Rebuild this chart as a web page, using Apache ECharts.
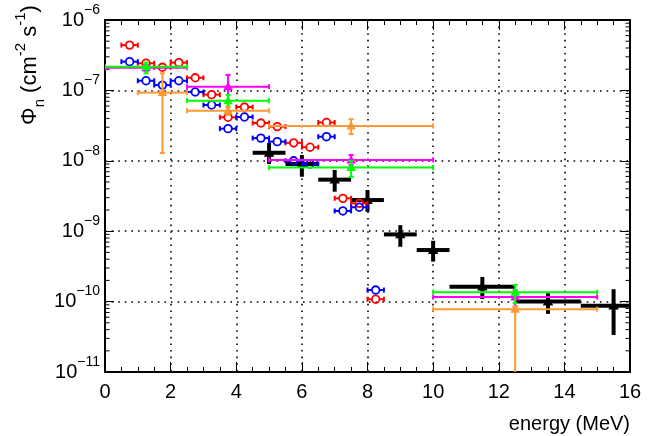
<!DOCTYPE html>
<html>
<head>
<meta charset="utf-8">
<script src="https://cdn.jsdelivr.net/npm/echarts@6/dist/echarts.min.js"></script>
<style>
  html, body { margin: 0; padding: 0; background: #ffffff; }
  #chart { width: 651px; height: 436px; }
</style>
</head>
<body>
<div id="chart"></div>
<script>
// Neutron flux spectra, flux (cm^-2 s^-1) versus neutron energy (MeV)

// Narrow 0.5 MeV bins (open-circle data sets)
const narrowEnergy = [0.75, 1.25, 1.75, 2.25, 2.75, 3.25, 3.75, 4.25, 4.75, 5.25, 5.75, 6.25, 6.75, 7.25, 7.75, 8.25];
const narrowHalfWidth = 0.25;
const redFlux  = [4.4e-7, 2.43e-7, 2.13e-7, 2.48e-7, 1.51e-7, 8.7e-8, 4.15e-8, 5.8e-8, 3.44e-8, 3.06e-8, 1.8e-8, 1.56e-8, 3.5e-8, 2.93e-9, 2.49e-9, 1.08e-10];
const blueFlux = [2.56e-7, 1.37e-7, 1.19e-7, 1.37e-7, 9.5e-8, 6.2e-8, 2.86e-8, 4.19e-8, 2.1e-8, 1.87e-8, 1.0e-8, 9.0e-9, 2.2e-8, 1.94e-9, 2.19e-9, 1.46e-10];

// Black measurement (thick crosses)
const blackEnergy   = [5, 6, 7, 8, 9, 10, 11.5, 13.5, 15.5];
const blackEnergyLo = [4.5, 5.5, 6.5, 7.5, 8.5, 9.5, 10.5, 12.5, 14.5];
const blackEnergyHi = [5.5, 6.5, 7.5, 8.5, 9.5, 10.5, 12.5, 14.5, 16.5];
const blackFlux     = [1.3e-8, 9.0e-9, 5.4e-9, 2.77e-9, 9.0e-10, 5.4e-10, 1.63e-10, 1.0e-10, 8.75e-11];
const blackFluxUp   = [1.79e-8, 1.21e-8, 7.4e-9, 3.85e-9, 1.22e-9, 7.3e-10, 2.24e-10, 1.32e-10, 1.5e-10];
const blackFluxDown = [9.0e-9, 5.94e-9, 3.64e-9, 1.89e-9, 6.0e-10, 3.7e-10, 1.09e-10, 6.7e-11, 3.36e-11];

// Wide-bin data sets (filled triangles)
const wideEnergy   = [1.25, 3.75, 7.5, 12.5];
const wideEnergyLo = [0, 2.5, 5, 10];
const wideEnergyHi = [2.5, 5, 10, 15];
const greenFlux     = [2.17e-7, 7.15e-8, 8.0e-9, 1.36e-10];
const greenFluxUp   = [2.48e-7, 8.6e-8, 1.0e-8, 1.72e-10];
const greenFluxDown = [1.75e-7, 5.9e-8, 5.9e-9, 9.5e-11];
const magentaFlux     = [2.1e-7, 1.13e-7, 1.03e-8, 1.16e-10];
const magentaFluxUp   = [2.3e-7, 1.66e-7, 1.21e-8, 1.45e-10];
const magentaFluxDown = [1.9e-7, 6.8e-8, 8.7e-9, 8.5e-11];

const orangeEnergy   = [1.75, 3.75, 7.5, 12.5];
const orangeEnergyLo = [1.0, 2.5, 5, 10];
const orangeEnergyHi = [2.5, 5, 10, 15];
const orangeFlux     = [9.3e-8, 5.15e-8, 3.12e-8, 7.8e-11];
const orangeFluxUp   = [1.75e-7, 5.8e-8, 3.9e-8, 8.5e-11];
const orangeFluxDown = [1.29e-8, 4.5e-8, 2.4e-8, 5e-12];

// Axis layout values
const energyMin = 0, energyMax = 16, energyStep = 2;
const fluxDecades = [-11, -10, -9, -8, -7, -6];
const logMinorSteps = [2, 3, 4, 5, 6, 7, 8, 9];

const FONT = '"Liberation Sans", Arial, Helvetica, sans-serif';

function rows(x, xl, xh, y, yd, yu) {
  return x.map((v, i) => [v, y[i], xl[i], xh[i], yd[i], yu[i]]);
}
function narrowRows(y) {
  return narrowEnergy.map((v, i) => [v, y[i], v - narrowHalfWidth, v + narrowHalfWidth, y[i], y[i]]);
}

// Error-bar series: horizontal bin width, vertical flux range, marker on top
function errorSeries(data, st) {
  return {
    type: 'custom',
    clip: true,
    silent: true,
    z: st.z,
    data: data,
    encode: { x: 0, y: 1 },
    renderItem: function (params, api) {
      const x = api.value(0), y = api.value(1);
      const c = api.coord([x, y]);
      const l = api.coord([api.value(2), y]);
      const r = api.coord([api.value(3), y]);
      const d = api.coord([x, api.value(4)]);
      const u = api.coord([x, api.value(5)]);
      const g = st.gap;
      const ln = (x1, y1, x2, y2) => ({
        type: 'line',
        shape: { x1: x1, y1: y1, x2: x2, y2: y2 },
        style: { stroke: st.color, lineWidth: st.width, lineCap: 'butt' }
      });
      const kids = [];
      if (l[0] < c[0] - g) kids.push(ln(l[0], c[1], c[0] - g, c[1]));
      if (r[0] > c[0] + g) kids.push(ln(c[0] + g, c[1], r[0], c[1]));
      if (d[1] > c[1] + g) kids.push(ln(c[0], c[1] + g, c[0], d[1]));
      if (u[1] < c[1] - g) kids.push(ln(c[0], u[1], c[0], c[1] - g));
      if (st.cap) {
        const h = st.cap;
        kids.push(ln(l[0], c[1] - h, l[0], c[1] + h));
        kids.push(ln(r[0], c[1] - h, r[0], c[1] + h));
        if (d[1] > c[1] + g) kids.push(ln(c[0] - h, d[1], c[0] + h, d[1]));
        if (u[1] < c[1] - g) kids.push(ln(c[0] - h, u[1], c[0] + h, u[1]));
      }
      if (st.marker === 'circle') {
        kids.push({
          type: 'circle',
          shape: { cx: c[0], cy: c[1], r: st.size },
          style: { fill: 'none', stroke: st.color, lineWidth: 1.8 }
        });
      } else if (st.marker === 'triangle') {
        const s = st.size;
        kids.push({
          type: 'polygon',
          shape: { points: [[c[0], c[1] - s], [c[0] - s * 0.95, c[1] + s * 0.7], [c[0] + s * 0.95, c[1] + s * 0.7]] },
          style: { fill: st.color }
        });
      }
      return { type: 'group', children: kids };
    }
  };
}

// Minor log ticks (2..9 per decade) on both vertical frame edges
const minorTickData = [];
fluxDecades.slice(0, -1).forEach(k => logMinorSteps.forEach(m => minorTickData.push([energyMin, m * Math.pow(10, k)])));

const minorTickSeries = {
  type: 'custom',
  clip: false,
  silent: true,
  z: 1,
  data: minorTickData,
  encode: { x: 0, y: 1 },
  renderItem: function (params, api) {
    const p = api.coord([energyMin, api.value(1)]);
    const q = api.coord([energyMax, api.value(1)]);
    const len = 4.5;
    const st = { stroke: '#000', lineWidth: 1 };
    return {
      type: 'group',
      children: [
        { type: 'line', shape: { x1: p[0], y1: p[1], x2: p[0] + len, y2: p[1] }, style: st },
        { type: 'line', shape: { x1: q[0], y1: q[1], x2: q[0] - len, y2: q[1] }, style: st }
      ]
    };
  }
};

function expLabel(v) {
  const e = Math.round(Math.log10(v));
  return '{b|10}{s|' + String(e).replace('-', '\u2212') + '}';
}

const dotted = { color: '#000', width: 1.6, type: [1.6, 5] };

const xAxisBase = {
  type: 'value',
  min: energyMin,
  max: energyMax,
  interval: energyStep,
  axisLine: { show: true, onZero: false, lineStyle: { color: '#000', width: 2 } },
  axisTick: { show: true, inside: true, length: 10, lineStyle: { color: '#000', width: 1 } },
  minorTick: { show: true, splitNumber: 4, length: 5, lineStyle: { color: '#000', width: 1 } },
  splitLine: { show: false }
};

const yAxisBase = {
  type: 'log',
  logBase: 10,
  min: 1e-11,
  max: 1e-6,
  axisLine: { show: true, onZero: false, lineStyle: { color: '#000', width: 2 } },
  axisTick: { show: true, inside: true, length: 9, lineStyle: { color: '#000', width: 1 } },
  splitLine: { show: false }
};

const chart = echarts.init(document.getElementById('chart'), null, { renderer: 'canvas' });

chart.setOption({
  animation: false,
  backgroundColor: '#ffffff',
  grid: { left: 105, right: 21, top: 20, bottom: 64, containLabel: false, outerBoundsMode: 'none' },
  xAxis: [
    Object.assign({}, xAxisBase, {
      position: 'bottom',
      axisLabel: { show: true, margin: 10, color: '#000', fontSize: 20, fontFamily: FONT },
      splitLine: { show: true, lineStyle: dotted },
      name: 'energy (MeV)',
      nameLocation: 'end',
      nameGap: 0,
      nameTextStyle: { color: '#000', fontSize: 20, fontFamily: FONT, align: 'right', verticalAlign: 'top', padding: [42, 0, 0, 0] }
    }),
    Object.assign({}, xAxisBase, { position: 'top', axisLabel: { show: false } })
  ],
  yAxis: [
    Object.assign({}, yAxisBase, {
      position: 'left',
      splitLine: { show: true, lineStyle: dotted },
      axisLabel: {
        show: true,
        margin: 5,
        formatter: expLabel,
        rich: {
          b: { fontSize: 20, fontFamily: FONT, color: '#000', lineHeight: 34 },
          s: { fontSize: 14, fontFamily: FONT, color: '#000', verticalAlign: 'top' }
        }
      }
    }),
    Object.assign({}, yAxisBase, { position: 'right', axisLabel: { show: false } })
  ],
  graphic: [
    {
      type: 'text',
      x: 30,
      y: 65,
      rotation: Math.PI / 2,
      style: {
        text: '{a|\u03a6}{n|n}{a| (cm}{p|-2}{a| s}{p|-1}{a|)}',
        align: 'center',
        verticalAlign: 'middle',
        rich: {
          a: { fontSize: 22, fontFamily: FONT, fill: '#000', lineHeight: 34 },
          n: { fontSize: 15, fontFamily: FONT, fill: '#000', verticalAlign: 'bottom', lineHeight: 26 },
          p: { fontSize: 15, fontFamily: FONT, fill: '#000', verticalAlign: 'top' }
        }
      }
    }
  ],
  series: [
    minorTickSeries,
    errorSeries(rows(blackEnergy, blackEnergyLo, blackEnergyHi, blackFlux, blackFluxDown, blackFluxUp),
      { color: '#000000', width: 4, gap: 0, cap: 0, marker: 'triangle', size: 5.5, z: 2 }),
    errorSeries(narrowRows(redFlux),
      { color: '#ff0000', width: 2, gap: 3.9, cap: 2.5, marker: 'circle', size: 3.8, z: 3 }),
    errorSeries(narrowRows(blueFlux),
      { color: '#0000ff', width: 2, gap: 3.9, cap: 2.5, marker: 'circle', size: 3.8, z: 4 }),
    errorSeries(rows(wideEnergy, wideEnergyLo, wideEnergyHi, magentaFlux, magentaFluxDown, magentaFluxUp),
      { color: '#ff00ff', width: 2, gap: 0, cap: 2.5, marker: 'triangle', size: 5, z: 5 }),
    errorSeries(rows(wideEnergy, wideEnergyLo, wideEnergyHi, greenFlux, greenFluxDown, greenFluxUp),
      { color: '#00ff00', width: 2, gap: 0, cap: 2.5, marker: 'triangle', size: 5, z: 6 }),
    errorSeries(rows(orangeEnergy, orangeEnergyLo, orangeEnergyHi, orangeFlux, orangeFluxDown, orangeFluxUp),
      { color: '#ff9933', width: 2, gap: 0, cap: 2.5, marker: 'triangle', size: 5, z: 7 })
  ]
});
</script>
</body>
</html>
